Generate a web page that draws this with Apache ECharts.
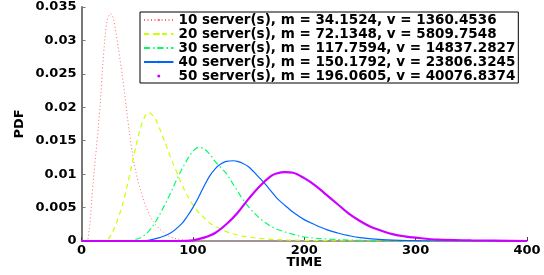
<!DOCTYPE html>
<html>
<head>
<meta charset="utf-8">
<script src="https://cdn.jsdelivr.net/npm/echarts@6/dist/echarts.min.js"></script>
<style>html,body{margin:0;padding:0;background:#fff;}#c{width:544px;height:275px;}</style>
</head>
<body>
<div id="c"></div>
<script>
var names = [
  '10 server(s), m = 34.1524, v = 1360.4536',
  '20 server(s), m = 72.1348, v = 5809.7548',
  '30 server(s), m = 117.7594, v = 14837.2827',
  '40 server(s), m = 150.1792, v = 23806.3245',
  '50 server(s), m = 196.0605, v = 40076.8374'
];
var xTicks = [0, 100, 200, 300, 400];
var yTicks = [0, 0.005, 0.01, 0.015, 0.02, 0.025, 0.03, 0.035];

var t10 = [0,5,6,8,10,12,14,16,18,20,22,24,26,28,30,32,34,36,38,40,42,44,46,48,50,52,56,60,65,70,75,80,90,100,110,400];
var v10 = [0,0.0001,0.0005,0.0035,0.0078,0.0115,0.015,0.0188,0.0235,0.0283,0.0318,0.0335,0.034,0.0336,0.0322,0.03,0.0278,0.0255,0.023,0.0203,0.0175,0.015,0.0128,0.011,0.0095,0.0082,0.006,0.0043,0.0028,0.0018,0.0011,0.0006,0.0002,0.0001,0,0];

var t20 = [0,20,24,28,32,36,40,44,48,52,56,60,64,68,72,76,80,85,90,95,100,105,110,115,120,130,140,150,160,175,200,250,400];
var v20 = [0,0,0.0003,0.0014,0.003,0.005,0.0075,0.0105,0.0135,0.0163,0.0183,0.0192,0.0188,0.0177,0.016,0.0143,0.0125,0.0105,0.0085,0.0068,0.0054,0.0043,0.0035,0.0027,0.0022,0.0014,0.0009,0.0006,0.0004,0.0002,0.0001,0,0];

var t30 = [0,40,50,55,60,65,70,75,80,85,90,95,100,105,110,115,120,125,130,135,140,145,150,155,160,170,180,190,200,220,250,300,400];
var v30 = [0,0,0.0003,0.0007,0.0014,0.0025,0.0039,0.0055,0.0072,0.009,0.0107,0.0122,0.0134,0.014,0.0138,0.013,0.0119,0.011,0.0101,0.0088,0.0075,0.0062,0.0051,0.0042,0.0034,0.0022,0.0015,0.001,0.0006,0.0003,0.0001,0,0];

var t40 = [0,50,60,70,80,90,95,100,105,110,115,120,125,130,137,140,145,150,155,160,165,170,175,180,185,190,200,210,220,230,240,250,270,300,320,400];
var v40 = [0,0,0.0001,0.0005,0.0012,0.0026,0.0037,0.005,0.0065,0.0082,0.0097,0.0108,0.0115,0.0119,0.012,0.0119,0.0116,0.0111,0.0103,0.0094,0.0085,0.0075,0.0065,0.0057,0.005,0.0043,0.0032,0.0024,0.0017,0.0012,0.0008,0.0005,0.0002,0.00005,0,0];

var t50 = [0,90,100,110,120,130,140,150,160,170,175,183,190,200,210,220,230,240,250,260,270,280,290,300,320,350,400];
var v50 = [0,0,0.0001,0.0005,0.0012,0.0025,0.0042,0.0063,0.0082,0.0097,0.0101,0.0103,0.0102,0.0094,0.0083,0.0069,0.0055,0.0041,0.003,0.0021,0.0015,0.001,0.0007,0.0005,0.0002,0.0001,0];

function zip(t, v) { return t.map(function (x, i) { return [x, v[i]]; }); }

var FONT = 'DejaVu Sans';
var chart = echarts.init(document.getElementById('c'), null, {renderer: 'canvas'});

var styles = [
  {color: '#ff6a6a', width: 1, type: [1, 2.5]},
  {color: '#ccff00', width: 1.2, type: [5, 4]},
  {color: '#00ff66', width: 1.2, type: [6, 3, 1.5, 3]},
  {color: '#0066ff', width: 1.2, type: 'solid'},
  {color: '#cc00ff', width: 2.2, type: 'solid'}
];
var datas = [zip(t10, v10), zip(t20, v20), zip(t30, v30), zip(t40, v40), zip(t50, v50)];

var series = names.map(function (n, i) {
  return {
    name: n,
    type: 'line',
    data: datas[i],
    smooth: 0.35,
    symbol: 'none',
    color: styles[i].color,
    lineStyle: {color: styles[i].color, width: styles[i].width, type: styles[i].type},
    animation: false
  };
});

chart.setOption({
  animation: false,
  grid: {left: 81.5, right: 17, top: 7, bottom: 34, containLabel: false, outerBoundsMode: 'none'},
  legend: {
    orient: 'vertical',
    left: 140,
    top: 12,
    align: 'left',
    backgroundColor: '#fff',
    borderColor: '#000',
    borderWidth: 1,
    padding: [1, 3, 0, 3],
    itemGap: 0,
    itemWidth: 29.5,
    itemHeight: 3,
    textStyle: {fontFamily: FONT, fontWeight: 'bold', fontSize: 13.5, color: '#000', lineHeight: 14},
    data: names.map(function (n, i) {
      return i === 4 ? {name: n, icon: 'circle'} : {name: n};
    })
  },
  xAxis: {
    type: 'value',
    min: xTicks[0],
    max: xTicks[xTicks.length - 1],
    interval: 100,
    name: 'TIME',
    nameLocation: 'middle',
    nameGap: 15,
    nameMoveOverlap: false,
    nameTextStyle: {fontFamily: FONT, fontWeight: 'bold', fontSize: 13, color: '#000'},
    axisLine: {show: true, lineStyle: {color: '#777', width: 1.5}},
    axisTick: {show: true, inside: true, length: 4, lineStyle: {color: '#444'}},
    axisLabel: {fontFamily: FONT, fontWeight: 'bold', fontSize: 13, color: '#000', margin: 3},
    splitLine: {show: false}
  },
  yAxis: {
    type: 'value',
    min: yTicks[0],
    max: yTicks[yTicks.length - 1],
    interval: 0.005,
    name: 'PDF',
    nameLocation: 'middle',
    nameGap: 55,
    nameMoveOverlap: false,
    nameTextStyle: {fontFamily: FONT, fontWeight: 'bold', fontSize: 13, color: '#000'},
    axisLine: {show: true, lineStyle: {color: '#777', width: 2}},
    axisTick: {show: true, inside: true, length: 4, lineStyle: {color: '#777'}},
    axisLabel: {fontFamily: FONT, fontWeight: 'bold', fontSize: 13, color: '#000', margin: 5},
    splitLine: {show: false}
  },
  series: series
});
</script>
</body>
</html>
